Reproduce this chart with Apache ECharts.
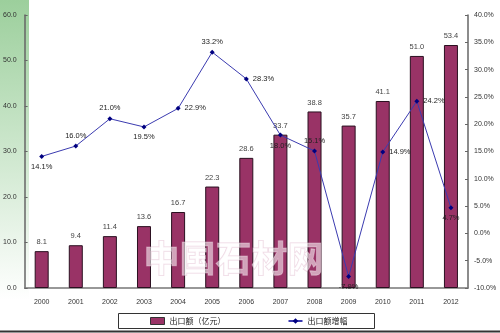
<!DOCTYPE html>
<html><head><meta charset="utf-8">
<script src="https://cdn.jsdelivr.net/npm/echarts@6/dist/echarts.min.js"></script>
<style>html,body{margin:0;padding:0;background:#fff}#c{width:500px;height:333px}</style>
</head><body><div id="c"></div>
<script>
var years = ['2000','2001','2002','2003','2004','2005','2006','2007','2008','2009','2010','2011','2012'];
var exportValue = [8.1, 9.4, 11.4, 13.6, 16.7, 22.3, 28.6, 33.7, 38.8, 35.7, 41.1, 51.0, 53.4];
var growthRate = [14.1, 16.0, 21.0, 19.5, 22.9, 33.2, 28.3, 18.0, 15.1, -7.9, 14.9, 24.2, 4.7];
var growthLabelPos = ['bottom','top','top','bottom','right','top','right','bottom','top','bottom','right','right','bottom'];
var growthLabelOffset = [[0,0],[0,0],[0,0],[8,0],[0,0],[10,0],[0,0],[4,0],[6,2],[0,0],[0,0],[0,0],[0,0]];

var chart = echarts.init(document.getElementById('c'), null, {renderer:'canvas'});
var font = 'Liberation Sans, Arial, sans-serif';
var cjk = 'Noto Sans CJK SC, sans-serif';
chart.setOption({
  animation:false,
  backgroundColor:'#fff',
  graphic:[
    {type:'rect', z:-10, shape:{x:0,y:0,width:29,height:300},
     style:{fill:new echarts.graphic.LinearGradient(0,0,0,1,[{offset:0,color:'#9ccf9c'},{offset:0.5,color:'#cde7cd'},{offset:1,color:'#ffffff'}])}},
    {type:'rect', shape:{x:118.5,y:313.5,width:256,height:15}, style:{fill:'none',stroke:'#333',lineWidth:1}},
    {type:'line', shape:{x1:0,y1:331.5,x2:500,y2:331.5}, style:{stroke:'#333',lineWidth:2}},
    {type:'text', z:100, left:143, top:240, style:{text:'中国石材网', font:'bold 36px Noto Sans CJK SC', fill:'rgba(255,255,255,0.55)', stroke:'rgba(220,170,195,0.5)', lineWidth:1}}
  ],
  legend:{
    left:150, top:317, padding:0, itemGap:62, itemWidth:14, itemHeight:7,
    textStyle:{fontFamily:cjk, fontSize:8, color:'#222'},
    data:[{name:'出口额（亿元）', icon:'rect', itemStyle:{borderColor:'#333',borderWidth:1}}, {name:'出口额增幅'}]
  },
  grid:{left:24, right:32, top:15, bottom:45, containLabel:false},
  xAxis:{
    type:'category', data:years,
    axisLine:{lineStyle:{color:'#777', width:1.5}},
    axisTick:{inside:true, length:4, lineStyle:{color:'#777'}},
    axisLabel:{fontFamily:font, fontSize:7, color:'#333', margin:11}
  },
  yAxis:[
    {type:'value', min:0, max:60, interval:10, splitLine:{show:false},
     axisLine:{show:true, lineStyle:{color:'#666', width:1.5}},
     axisTick:{show:true, inside:true, length:3, lineStyle:{color:'#666'}},
     axisLabel:{fontFamily:font, fontSize:7, color:'#333', margin:8, formatter:function(v){return v.toFixed(1);}}},
    {type:'value', min:-10, max:40, interval:5, splitLine:{show:false},
     axisLine:{show:true, lineStyle:{color:'#666', width:1.5}},
     axisTick:{show:true, inside:true, length:3, lineStyle:{color:'#666'}},
     axisLabel:{fontFamily:font, fontSize:7, color:'#333', margin:6, formatter:function(v){return v.toFixed(1)+'%';}}}
  ],
  series:[
    {name:'出口额（亿元）', type:'bar', data:exportValue, barWidth:14,
     itemStyle:{color:'#993366', borderColor:'#2a1020', borderWidth:1},
     label:{show:true, position:'top', distance:5, fontFamily:font, fontSize:7.5, color:'#444', formatter:function(p){return p.value.toFixed(1);}}},
    {name:'出口额增幅', type:'line', yAxisIndex:1, z:5,
     data:growthRate.map(function(v,i){return {value:v, label:{position:growthLabelPos[i], offset:growthLabelOffset[i]}};}),
     symbol:'diamond', symbolSize:5, lineStyle:{color:'#3b3bb0', width:1}, itemStyle:{color:'#000080'},
     label:{show:true, fontFamily:font, fontSize:7.5, color:'#222', distance:4, formatter:function(p){return p.value.toFixed(1)+'%';}},
     labelLayout:{hideOverlap:false}}
  ]
});
</script></body></html>
